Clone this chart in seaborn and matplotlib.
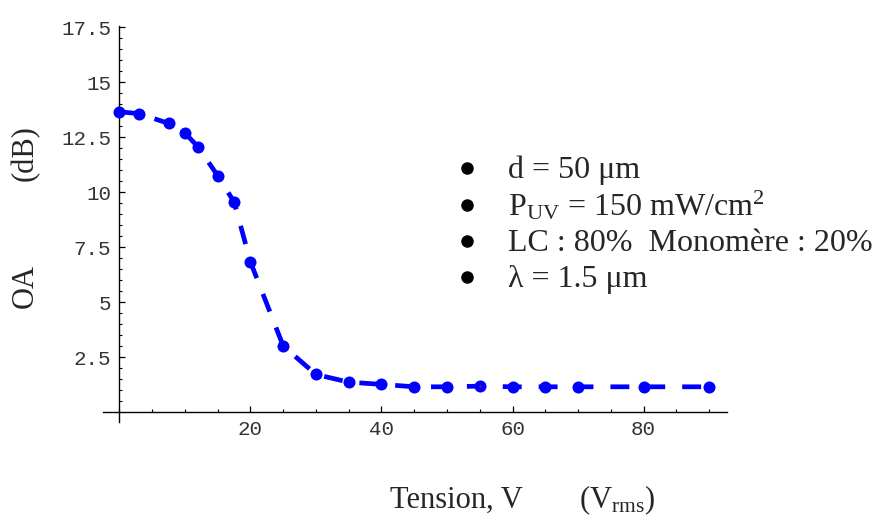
import matplotlib

matplotlib.use("Agg")
import matplotlib.pyplot as plt
import numpy as np
import pandas as pd
import seaborn as sns
from matplotlib.lines import Line2D
from matplotlib.ticker import MultipleLocator

# Data
tension = [0, 3, 7.5, 10, 12, 15, 17.5, 20, 25, 30, 35, 40, 45, 50, 55, 60, 65, 70, 80, 90]
oa_db = [13.65, 13.56, 13.12, 12.68, 12.05, 10.74, 9.55, 6.82, 3.0, 1.71, 1.36, 1.26,
         1.15, 1.15, 1.18, 1.15, 1.15, 1.15, 1.15, 1.15]
red_x = [55]
red_y = [1.18]

x_ticks = [20, 40, 60, 80]
y_ticks = [2.5, 5, 7.5, 10, 12.5, 15, 17.5]
y_tick_labels = ["2.5", "5", "7.5", "10", "12.5", "15", "17.5"]

conditions = [
    "d = 50 \u03bcm",
    "P$_{\\mathrm{UV}}$ = 150 mW/cm$^{2}$",
    "LC : 80%  Monom\u00e8re : 20%",
    "\u03bb = 1.5 \u03bcm",
]

df = pd.DataFrame({"tension": tension, "oa": oa_db})

sns.set_style("white")
plt.rcParams["font.family"] = ["Liberation Serif", "DejaVu Serif"]
plt.rcParams["mathtext.fontset"] = "custom"
plt.rcParams["mathtext.rm"] = "Liberation Serif"
plt.rcParams["mathtext.it"] = "Liberation Serif:italic"

W, H = 875, 518
fig = plt.figure(figsize=(W / 100, H / 100), dpi=100)
ax = fig.add_axes([103.1 / W, 96 / H, 623.6 / W, 396.1 / H])

# dashed line through the points, then the points on top
sns.lineplot(data=df, x="tension", y="oa", ax=ax, color="#0000ff", linewidth=3.4,
             dashes=[4, 3.6], sort=False)
sns.scatterplot(data=df, x="tension", y="oa", ax=ax, color="#0000ff", s=75,
                linewidth=0, zorder=3)
ax.scatter(red_x, red_y, color="red", s=2, zorder=4, linewidth=0)

ax.set_xlim(-2.5, 92.7)
ax.set_ylim(-0.45, 17.55)

# Mathematica-style axes crossing at the origin
for side in ["top", "right"]:
    ax.spines[side].set_visible(False)
ax.spines["left"].set_position(("data", 0))
ax.spines["bottom"].set_position(("data", 0))
for side in ["left", "bottom"]:
    ax.spines[side].set_linewidth(1.0)
    ax.spines[side].set_color("black")

ax.set_xticks(x_ticks)
ax.set_yticks(y_ticks)
ax.set_yticklabels(y_tick_labels)
ax.xaxis.set_minor_locator(MultipleLocator(5))
ax.yaxis.set_minor_locator(MultipleLocator(0.5))
ax.tick_params(which="both", bottom=True, left=True, top=False, right=False)
ax.tick_params(which="major", direction="in", length=4, width=0.9, color="black",
               labelsize=15, labelcolor="#333333", pad=6)
ax.tick_params(which="minor", direction="in", length=2.3, width=0.8, color="black")
for lab in ax.get_xticklabels() + ax.get_yticklabels():
    lab.set_family("Liberation Mono")

ax.set_xlabel("")
ax.set_ylabel("")
ax.grid(False)

# axis titles
fig.text(25 / W, 1 - 286 / H, "OA", rotation=90, ha="center", va="center", fontsize=22)
fig.text(25 / W, 1 - 153 / H, "(dB)", rotation=90, ha="center", va="center", fontsize=22)
fig.text(390 / W, 1 - 508 / H, "Tension, V", ha="left", va="baseline", fontsize=22)
fig.text(579 / W, 1 - 508 / H, "(V$_{\\mathrm{rms}}$)", ha="left", va="baseline", fontsize=22)

# experimental conditions list
baselines = [178, 215, 251, 287]
for txt, yb in zip(conditions, baselines):
    fig.add_artist(Line2D([467 / W], [1 - (yb - 10) / H], marker="o", markersize=8,
                          color="black", linewidth=0, transform=fig.transFigure))
    fig.text(508 / W, 1 - yb / H, txt, ha="left", va="baseline", fontsize=23)

fig.savefig("out.png", dpi=100, facecolor="white")
